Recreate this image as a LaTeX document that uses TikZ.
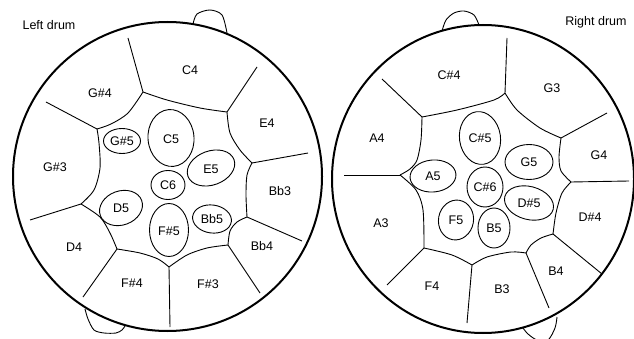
\documentclass[tikz,border=0pt]{standalone}
\usepackage{fontspec}
\setmainfont{Liberation Sans}
\begin{document}
\begin{tikzpicture}[x=1pt,y=-1pt,
  rim/.style={line width=2pt},
  seam/.style={line width=0.9pt, line join=round},
  pad/.style={line width=0.9pt},
  lbl/.style={font=\fontsize{12.5}{14}\selectfont, inner sep=0pt},
]
\useasboundingbox (0,0) rectangle (634,339);
\clip (0,0) rectangle (634,339);
\fill[white] (0,0) rectangle (634,339);

% ---------------- Left drum ----------------
\draw[rim] (167.5,176.5) circle [radius=154.5];
% handles
\draw[seam] plot[smooth] coordinates {(193,24) (197,14) (210,10) (222,15) (227,33)};
\draw[seam] plot[smooth] coordinates {(85,309) (88,319) (94,330) (104,333) (116,333) (122,330) (125,326)};

% vertices
\coordinate (A) at (143,92);
\coordinate (B) at (97,129);
\coordinate (C) at (227,112);
\coordinate (D) at (252,163);
\coordinate (E) at (81,204);
\coordinate (F) at (117,249);
\coordinate (G) at (169,267);
\coordinate (H) at (228,245);
\coordinate (I) at (247,217);
% rim ends
\coordinate (L1) at (128,38);
\coordinate (L2) at (46,102);
\coordinate (L3) at (257,67);
\coordinate (L4) at (308,153);
\coordinate (L5) at (30,220);
\coordinate (L6) at (83,297);
\coordinate (L7) at (170,327);
\coordinate (L8) at (260,293);
\coordinate (L9) at (302,241);

\draw[seam] (L1) -- (A);
\draw[seam] (L2) -- (B);
\draw[seam] (C) -- (L3);
\draw[seam] (D) -- (L4);
\draw[seam] (E) -- (L5);
\draw[seam] (F) -- (L6);
\draw[seam] (G) -- (L7);
\draw[seam] (H) -- (L8);
\draw[seam] (I) -- (L9);
\draw[seam] plot[smooth] coordinates {(143,92) (128,113) (111,124) (97,129)};
\draw[seam] plot[smooth] coordinates {(143,92) (167,100) (200,108) (227,112)};
\draw[seam] plot[smooth] coordinates {(227,112) (230,133) (240,150) (252,163)};
\draw[seam] plot[smooth] coordinates {(97,129) (99,143) (100,168) (94,190) (81,204)};
\draw[seam] plot[smooth] coordinates {(81,204) (100,217) (110,233) (117,249)};
\draw[seam] plot[smooth] coordinates {(117,249) (140,253) (158,259) (169,267)};
\draw[seam] plot[smooth] coordinates {(169,267) (187,255) (207,248) (228,245)};
\draw[seam] plot[smooth] coordinates {(228,245) (230,231) (237,222) (247,217)};
\draw[seam] plot[smooth] coordinates {(247,217) (246,195) (247,175) (252,163)};

% pads
\draw[pad] (122,141) ellipse [x radius=18.5, y radius=12.5];
\draw[pad, rotate around={5:(171,138)}] (171,138) ellipse [x radius=23, y radius=28.5];
\draw[pad, rotate around={20:(211,168)}] (211,168) ellipse [x radius=24.5, y radius=17];
\draw[pad] (168,185) ellipse [x radius=17, y radius=14.5];
\draw[pad, rotate around={20:(121,208)}] (121,208) ellipse [x radius=22, y radius=17];
\draw[pad] (169,230) ellipse [x radius=19.5, y radius=26.5];
\draw[pad, rotate around={-8:(212,219)}] (212,219) ellipse [x radius=19.5, y radius=14];

% labels
\node[lbl] (tl) at (49,25) {Left drum};
\node[lbl] (nC4) at (190,70) {C4};
\node[lbl] (nGs4) at (100,93) {G\#4};
\node[lbl] (nE4) at (267,123) {E4};
\node[lbl] (nGs3) at (55,167) {G\#3};
\node[lbl] (nBb3) at (280,191) {Bb3};
\node[lbl] (nD4) at (74,247) {D4};
\node[lbl] (nBb4) at (262,246) {Bb4};
\node[lbl] (nFs4) at (132,283) {F\#4};
\node[lbl] (nFs3) at (208,284) {F\#3};
\node[lbl] (nGs5) at (122,141) {G\#5};
\node[lbl] (nC5) at (171,139) {C5};
\node[lbl] (nE5) at (211,169) {E5};
\node[lbl] (nC6) at (168,185) {C6};
\node[lbl] (nD5) at (121,208) {D5};
\node[lbl] (nFs5) at (169,231) {F\#5};
\node[lbl] (nBb5) at (212,219) {Bb5};

% ---------------- Right drum ----------------
\draw[rim] (483,179) ellipse [x radius=151, y radius=154];
% handles
\draw[seam] plot[smooth] coordinates {(442,31) (446,20) (454,13) (464,11) (474,15) (479,25)};
\draw[seam] plot[smooth] coordinates {(523,328) (528,334) (537,340) (548,340) (555,328) (557,317)};

\coordinate (P) at (505,93);
\coordinate (Q) at (422,117);
\coordinate (R) at (561,138);
\coordinate (S) at (400,175);
\coordinate (T) at (424,248);
\coordinate (U) at (472,265);
\coordinate (V) at (526,253);
\coordinate (W) at (553,234);
\coordinate (X) at (571,182);
\coordinate (R1) at (507,38);
\coordinate (R2) at (382,79);
\coordinate (R3) at (607,113);
\coordinate (R4) at (344,175);
\coordinate (R5) at (387,285);
\coordinate (R6) at (467,323);
\coordinate (R7) at (549,308);
\coordinate (R8) at (602,274);
\coordinate (R9) at (629,181);

\draw[seam] (R1) -- (P);
\draw[seam] (Q) -- (R2);
\draw[seam] (R) -- (R3);
\draw[seam] (S) -- (R4);
\draw[seam] (T) -- (R5);
\draw[seam] (U) -- (R6);
\draw[seam] (V) -- (R7);
\draw[seam] (W) -- (R8);
\draw[seam] (X) -- (R9);
\draw[seam] plot[smooth] coordinates {(505,93) (494,100) (457,110) (422,117)};
\draw[seam] plot[smooth] coordinates {(505,93) (517,110) (540,128) (561,138)};
\draw[seam] plot[smooth] coordinates {(422,117) (421,140) (417,160) (410,169) (400,175)};
\draw[seam] plot[smooth] coordinates {(400,175) (416,190) (423,210) (424,248)};
\draw[seam] plot[smooth] coordinates {(424,248) (452,255) (472,265)};
\draw[seam] plot[smooth] coordinates {(472,265) (487,257) (511,252) (526,253)};
\draw[seam] plot[smooth] coordinates {(526,253) (531,245) (541,238) (553,234)};
\draw[seam] plot[smooth] coordinates {(553,234) (556,213) (562,193) (571,182)};
\draw[seam] plot[smooth] coordinates {(561,138) (559,157) (561,171) (571,182)};

% pads
\draw[pad, rotate around={8:(480,138)}] (480,138) ellipse [x radius=20.5, y radius=26.5];
\draw[pad] (529,162) ellipse [x radius=24, y radius=17.5];
\draw[pad, rotate around={5:(433,176)}] (433,176) ellipse [x radius=23, y radius=16];
\draw[pad] (485,187) ellipse [x radius=18, y radius=20];
\draw[pad, rotate around={-15:(529,203)}] (529,203) ellipse [x radius=25, y radius=16.5];
\draw[pad, rotate around={-10:(456,220)}] (456,220) ellipse [x radius=17.5, y radius=20];
\draw[pad] (494,228) ellipse [x radius=16, y radius=20];

\node[lbl] (tr) at (596,22) {Right drum};
\node[lbl] (nCs4) at (449,75) {C\#4};
\node[lbl] (nG3) at (552,88) {G3};
\node[lbl] (nA4) at (377,138) {A4};
\node[lbl] (nG4) at (599,155) {G4};
\node[lbl] (nA3) at (381,223) {A3};
\node[lbl] (nDs4) at (590,217) {D\#4};
\node[lbl] (nF4) at (432,286) {F4};
\node[lbl] (nB3) at (502,289) {B3};
\node[lbl] (nB4) at (556,271) {B4};
\node[lbl] (nCs5) at (480,138) {C\#5};
\node[lbl] (nG5) at (529,162) {G5};
\node[lbl] (nA5) at (433,176) {A5};
\node[lbl] (nCs6) at (485,187) {C\#6};
\node[lbl] (nDs5) at (529,203) {D\#5};
\node[lbl] (nF5) at (456,220) {F5};
\node[lbl] (nB5) at (494,228) {B5};
\end{tikzpicture}
\end{document}
